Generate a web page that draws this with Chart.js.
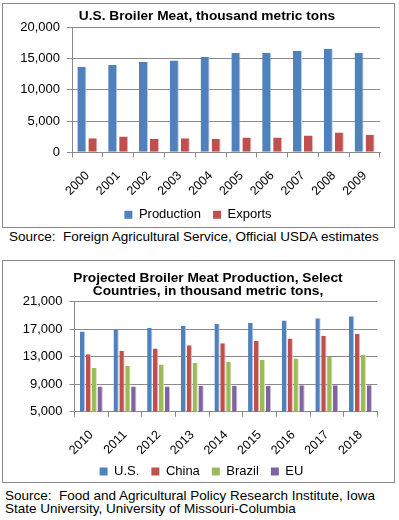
<!DOCTYPE html>
<html>
<head>
<meta charset="utf-8">
<script src="https://cdn.jsdelivr.net/npm/chart.js@4.4.1/dist/chart.umd.min.js"></script>
<style>
  html, body { margin: 0; padding: 0; background: #fff; width: 399px; height: 520px; overflow: hidden; }
  .box { position: absolute; border: 1px solid #8a8a8a; background: #fff; }
  .box canvas { position: absolute; left: 0; top: 0; }
  .src { position: absolute; font-family: "Liberation Sans", Arial, sans-serif; font-size: 13.5px; color: #000; white-space: pre; line-height: 13.3px; }
</style>
</head>
<body>
<div class="box" id="box1" style="left:2px; top:3px; width:391px; height:223px;"><canvas id="c1" width="391" height="223"></canvas></div>
<div class="src" id="src1" style="left:9px; top:230px;">Source:  Foreign Agricultural Service, Official USDA estimates</div>
<div class="box" id="box2" style="left:2px; top:260px; width:391px; height:221px;"><canvas id="c2" width="391" height="221"></canvas></div>
<div class="src" id="src2" style="left:5px; top:489px;">Source:  Food and Agricultural Policy Research Institute, Iowa
State University, University of Missouri-Columbia</div>
<script>
// ---- Chart 1 data ----
const title1 = "U.S. Broiler Meat, thousand metric tons";
const years1 = ["2000","2001","2002","2003","2004","2005","2006","2007","2008","2009"];
const production = [13703, 13968, 14467, 14696, 15286, 15869, 15930, 16226, 16561, 15935];
const exportsUS = [2231, 2520, 2180, 2232, 2170, 2360, 2361, 2678, 3157, 2790];

// ---- Chart 2 data ----
const title2 = ["Projected Broiler Meat Production, Select", "Countries, in thousand metric tons,"];
const years2 = ["2010","2011","2012","2013","2014","2015","2016","2017","2018"];
const usProd = [16650, 16950, 17200, 17500, 17750, 17950, 18250, 18580, 18870];
const chinaProd = [13350, 13850, 14200, 14650, 14950, 15330, 15650, 16050, 16350];
const brazilProd = [11350, 11640, 11880, 12130, 12270, 12520, 12750, 12950, 13250];
const euProd = [8680, 8680, 8680, 8730, 8780, 8780, 8830, 8830, 8830];

const FONT = '"Liberation Sans", Arial, sans-serif';
const GRID = '#8a8a8a';
const C = {
  blue: '#4F81BD', blueE: '#B9CDE5',
  red: '#C0504D', redE: '#E6B9B8',
  green: '#9BBB59', greenE: '#D7E4BD',
  purple: '#8064A2', purpleE: '#CCC1DA'
};

Chart.defaults.font.family = FONT;
Chart.defaults.color = '#000';

// nudges the title and legend boxes after layout (offsets in px)
const nudge = {
  id: 'nudge',
  afterLayout(chart, args, opts) {
    const t = chart.titleBlock, l = chart.legend;
    if (t && opts.titleDx) { t.left += opts.titleDx; t.right += opts.titleDx; }
    if (l) {
      if (opts.legendDx) { l.left += opts.legendDx; l.right += opts.legendDx; }
      if (opts.legendDy) { l.top += opts.legendDy; l.bottom += opts.legendDy; }
    }
  }
};

function legendLabels() {
  return {
    boxWidth: 8, boxHeight: 8, padding: 12, color: '#000',
    font: { family: FONT, size: 13 },
    generateLabels(chart) {
      const items = Chart.defaults.plugins.legend.labels.generateLabels(chart);
      items.forEach(i => { i.lineWidth = 0; i.strokeStyle = i.fillStyle; });
      return items;
    }
  };
}

function ds(label, data, fill, edge) {
  return {
    label, data, backgroundColor: fill, borderColor: edge,
    borderWidth: { top: 0, right: 1, bottom: 0, left: 0 }, borderSkipped: false
  };
}

new Chart(document.getElementById('c1'), {
  type: 'bar',
  data: {
    labels: years1,
    datasets: [
      Object.assign(ds('Production', production, C.blue, C.blueE), { categoryPercentage: 0.714, barPercentage: 0.82 }),
      Object.assign(ds('Exports', exportsUS, C.red, C.redE), { categoryPercentage: 0.714, barPercentage: 0.82 })
    ]
  },
  options: {
    responsive: false, animation: false, events: [],
    layout: { padding: { left: 0, right: 14, top: 0, bottom: -10.3 } },
    plugins: {
      title: { display: true, text: title1, color: '#000',
        font: { family: FONT, size: 13.7, weight: 'bold', lineHeight: 1.2 },
        padding: { top: 4, bottom: 2.86 } },
      legend: { position: 'bottom', labels: legendLabels() },
      tooltip: { enabled: false },
      nudge: { titleDx: 15.5, legendDx: 6.5, legendDy: -6.1 }
    },
    scales: {
      x: {
        grid: { offset: true, drawOnChartArea: false, tickLength: 5, color: GRID },
        border: { color: GRID },
        ticks: { minRotation: 45, maxRotation: 45, color: '#000', font: { size: 12.5 }, padding: 11 },
        afterFit(s) { s.height = 50; }
      },
      y: {
        min: 0, max: 20000,
        ticks: { stepSize: 5000, color: '#000', font: { size: 13 }, padding: 7 },
        grid: { color: GRID, tickLength: 5 },
        border: { color: GRID },
        afterFit(s) { s.width = 69; }
      }
    }
  },
  plugins: [nudge]
});

const cp2 = 0.70, bp2 = 0.9;
new Chart(document.getElementById('c2'), {
  type: 'bar',
  data: {
    labels: years2,
    datasets: [
      Object.assign(ds('U.S.', usProd, C.blue, C.blueE), { categoryPercentage: cp2, barPercentage: bp2 }),
      Object.assign(ds('China', chinaProd, C.red, C.redE), { categoryPercentage: cp2, barPercentage: bp2 }),
      Object.assign(ds('Brazil', brazilProd, C.green, C.greenE), { categoryPercentage: cp2, barPercentage: bp2 }),
      Object.assign(ds('EU', euProd, C.purple, C.purpleE), { categoryPercentage: cp2, barPercentage: bp2 })
    ]
  },
  options: {
    responsive: false, animation: false, events: [],
    layout: { padding: { left: 0, right: 16.7, top: 0, bottom: -14.7 } },
    plugins: {
      title: { display: true, text: title2, color: '#000',
        font: { family: FONT, size: 13.7, weight: 'bold', lineHeight: 0.97 },
        padding: { top: 10.65, bottom: 3.45 } },
      legend: { position: 'bottom', labels: legendLabels() },
      tooltip: { enabled: false },
      nudge: { titleDx: 17.85, legendDx: 11.35, legendDy: -8.7 }
    },
    scales: {
      x: {
        grid: { offset: true, drawOnChartArea: false, tickLength: 5, color: GRID },
        border: { color: GRID },
        ticks: { minRotation: 45, maxRotation: 45, color: '#000', font: { size: 12.5 }, padding: 11 },
        afterFit(s) { s.height = 50; }
      },
      y: {
        min: 5000, max: 21000,
        ticks: { stepSize: 4000, color: '#000', font: { size: 13 }, padding: 7 },
        grid: { color: GRID, tickLength: 5 },
        border: { color: GRID },
        afterFit(s) { s.width = 71.5; }
      }
    }
  },
  plugins: [nudge]
});
</script>
</body>
</html>
